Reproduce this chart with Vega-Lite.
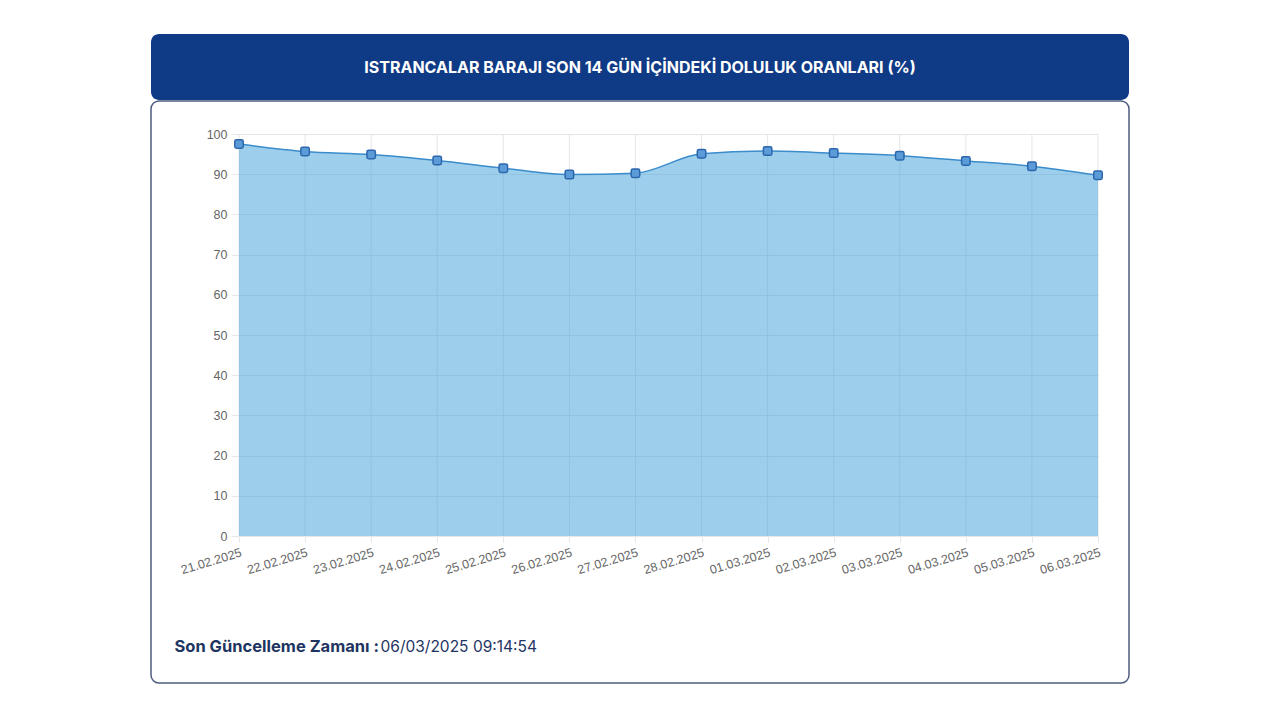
{
  "$schema": "https://vega.github.io/schema/vega-lite/v6.json",
  "padding": {"left": 150, "top": 34, "right": 0, "bottom": 0},
  "background": "#ffffff",
  "spacing": 0,
  "vconcat": [
    {
      "width": 978,
      "height": 66,
      "view": {"fill": "#0f3a85", "stroke": null, "cornerRadius": 8},
      "data": {"values": [{"title": "ISTRANCALAR BARAJI SON 14 GÜN İÇİNDEKİ DOLULUK ORANLARI (%)"}]},
      "mark": {"type": "text", "font": "Inter", "fontSize": 16, "fontWeight": "bold", "color": "#ffffff", "align": "center", "baseline": "middle", "dy": 1},
      "encoding": {"text": {"field": "title"}}
    },
    {
      "width": 978,
      "height": 582,
      "view": {"stroke": "#4d5d7c", "strokeWidth": 1.5, "cornerRadius": 8, "fill": "#ffffff"},
      "data": {"values": [
        {"date": "21.02.2025", "value": 97.5},
        {"date": "22.02.2025", "value": 95.65},
        {"date": "23.02.2025", "value": 94.9},
        {"date": "24.02.2025", "value": 93.4},
        {"date": "25.02.2025", "value": 91.5},
        {"date": "26.02.2025", "value": 89.9},
        {"date": "27.02.2025", "value": 90.25},
        {"date": "28.02.2025", "value": 95.1},
        {"date": "01.03.2025", "value": 95.75},
        {"date": "02.03.2025", "value": 95.25},
        {"date": "03.03.2025", "value": 94.6},
        {"date": "04.03.2025", "value": 93.3},
        {"date": "05.03.2025", "value": 92.0},
        {"date": "06.03.2025", "value": 89.75}
      ]},
      "encoding": {
        "x": {
          "field": "date", "type": "ordinal", "sort": null,
          "scale": {"type": "point", "padding": 0, "range": [88, 947]},
          "axis": {
            "offset": -147, "domain": false, "grid": false, "tickColor": "#e6e6e6", "tickSize": 6,
            "labelAngle": -17, "labelAlign": "right", "labelBaseline": "top", "labelPadding": 4,
            "labelFont": "Liberation Sans", "labelFontSize": 12.5, "labelColor": "#666666", "labelOverlap": false,
            "title": "06/03/2025 09:14:54", "titleX": 229, "titleY": 110, "titleAngle": 0, "titleAlign": "left", "titleBaseline": "middle",
            "titleFont": "Inter", "titleFontSize": 15.5, "titleFontWeight": "normal", "titleColor": "#1e3461"
          }
        },
        "y": {
          "field": "value", "type": "quantitative",
          "scale": {"domain": [0, 100], "nice": false, "zero": true, "range": [435, 33]},
          "axis": {
            "values": [0, 10, 20, 30, 40, 50, 60, 70, 80, 90, 100],
            "offset": -88, "domain": false, "grid": true, "gridColor": "#e6e6e6", "tickColor": "#e6e6e6", "tickSize": 8,
            "labelPadding": 4, "labelFont": "Liberation Sans", "labelFontSize": 12.5, "labelColor": "#666666",
            "title": "Son Güncelleme Zamanı :", "titleX": -65, "titleY": 545, "titleAngle": 0, "titleAlign": "left", "titleBaseline": "middle",
            "titleFont": "Inter", "titleFontSize": 16.5, "titleFontWeight": "bold", "titleColor": "#1e3461"
          }
        }
      },
      "layer": [
        {"mark": {"type": "rule", "color": "#e6e6e6", "strokeWidth": 1}, "encoding": {"y": {"datum": 0}, "y2": {"datum": 100}}},
        {"mark": {"type": "area", "interpolate": "monotone", "fill": "#3ca0dc", "fillOpacity": 0.5}},
        {"mark": {"type": "line", "interpolate": "monotone", "color": "#3a8ccb", "strokeWidth": 1.5}},
        {"mark": {"type": "point", "shape": "M -0.6,-1 H 0.6 Q 1,-1 1,-0.6 V 0.6 Q 1,1 0.6,1 H -0.6 Q -1,1 -1,0.6 V -0.6 Q -1,-1 -0.6,-1 Z", "size": 72, "filled": true, "fill": "#5b9bd8", "stroke": "#2c67ad", "strokeWidth": 1.5, "opacity": 1}}
      ]
    }
  ]
}
